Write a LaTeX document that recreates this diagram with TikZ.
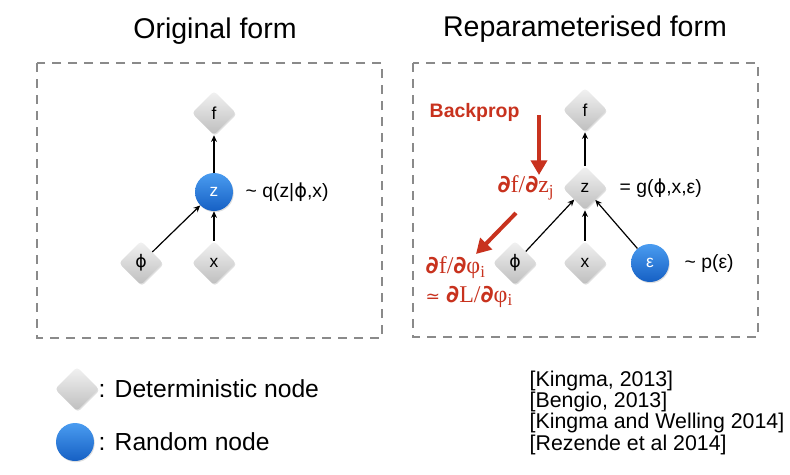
\documentclass[tikz,border=0pt]{standalone}
\usepackage{fontspec}
\setmainfont{Liberation Sans}
\newfontfamily\redserif{Liberation Serif}
\newfontfamily\dvsans{DejaVu Sans}
\usetikzlibrary{shapes.geometric,arrows.meta,shadows}
\definecolor{boxgray}{HTML}{8A8A8A}
\definecolor{redtxt}{HTML}{C8321E}
\definecolor{bluetop}{HTML}{4A9CF0}
\definecolor{bluebot}{HTML}{1660C4}
\definecolor{dtop}{HTML}{F2F2F2}
\definecolor{dbot}{HTML}{BEBEBE}
\tikzset{
  detnode/.style={diamond, aspect=1, minimum size=33pt, inner sep=0pt,
    rounded corners=2.5pt, top color=dtop, bottom color=dbot,
    drop shadow={opacity=0.25, shadow xshift=0.6pt, shadow yshift=-0.9pt},
    font=\fontsize{13}{15}\selectfont},
  rndnode/.style={circle, minimum size=28.5pt, inner sep=0pt,
    top color=bluetop, bottom color=bluebot, text=white,
    drop shadow={opacity=0.25, shadow xshift=0.6pt, shadow yshift=-0.9pt},
    font=\fontsize{13}{15}\selectfont},
  edge/.style={-{Stealth[length=5pt,width=4.5pt]}, line width=0.9pt, black},
  redarrow/.style={line width=3pt, redtxt, -{Triangle[length=11pt,width=12pt]}},
  framebox/.style={draw=boxgray, line width=1.1pt, dash pattern=on 7pt off 5pt},
  title/.style={font=\fontsize{21.4}{24}\selectfont},
  lbl/.style={anchor=west, font=\fontsize{14.5}{17}\selectfont},
  redlbl/.style={text=redtxt, font=\redserif\fontsize{18}{21}\selectfont},
  legtxt/.style={anchor=west, font=\fontsize{18.5}{22}\selectfont},
  reftxt/.style={anchor=west, font=\fontsize{16}{19}\selectfont},
}
\newcommand{\bpartial}{{\dvsans\bfseries ∂}}
\newcommand{\sphi}{{\dvsans ϕ}}
\begin{document}
\begin{tikzpicture}[x=0.75pt,y=-0.75pt]
\useasboundingbox (0,0) rectangle (790,475);
% titles
\node[title] (t1) at (215,31) {Original form};
\node[title] (t2) at (585,29) {Reparameterised form};
% frames
\draw[framebox] (37,63) rectangle (382,338);
\draw[framebox] (413,63) rectangle (758,337);
% left graph
\node[detnode] (lf) at (214,113) {f};
\node[rndnode] (lz) at (214,192) {z};
\node[detnode] (lphi) at (141,263) {\sphi};
\node[detnode] (lx) at (214,263) {x};
\draw[edge] (lz) -- (lf);
\draw[edge] (lphi) -- (lz);
\draw[edge] (lx) -- (lz);
\node[lbl] (lq) at (241,192) {\textasciitilde\ q(z|\sphi,x)};
% right graph
\node[detnode] (rf) at (585,110) {f};
\node[detnode] (rz) at (585,188) {z};
\node[detnode] (rphi) at (515,263) {\sphi};
\node[detnode] (rx) at (585,263) {x};
\node[rndnode] (reps) at (650,263) {ε};
\draw[edge] (rz) -- (rf);
\draw[edge] (rphi) -- (rz);
\draw[edge] (rx) -- (rz);
\draw[edge] (reps) -- (rz);
\node[lbl] (rg) at (615,188) {= g(\sphi,x,ε)};
\node[lbl] (rp) at (680,263) {\textasciitilde\ p(ε)};
% backprop annotations
\node[anchor=west, text=redtxt, font=\bfseries\fontsize{14.6}{17}\selectfont] (bp) at (425,112) {Backprop};
\coordinate (ba1) at (539,115);
\coordinate (ba2) at (539,175);
\draw[redarrow] (ba1) -- (ba2);
\node[redlbl, anchor=east] (dfdz) at (559,188) {\bpartial f/\bpartial z\textsubscript{j}};
\coordinate (bb1) at (516,213);
\coordinate (bb2) at (476,254);
\draw[redarrow] (bb1) -- (bb2);
\node[redlbl, anchor=west] (dfdphi) at (421,268) {\bpartial f/\bpartial φ\textsubscript{i}};
\node[redlbl, anchor=west] (approx) at (421,297) {{\dvsans\fontsize{13}{15}\selectfont ≃} \bpartial L/\bpartial φ\textsubscript{i}};
% legend
\node[detnode] (legd) at (77,389) {};
\node[rndnode] (legr) at (75,442) {};
\node[legtxt] (legdt) at (94,389) {: Deterministic node};
\node[legtxt] (legrt) at (94,442) {: Random node};
% references
\node[reftxt] (r1) at (525,381) {[Kingma, 2013]};
\node[reftxt] (r2) at (525,402) {[Bengio, 2013]};
\node[reftxt] (r3) at (525,423) {[Kingma and Welling 2014]};
\node[reftxt] (r4) at (525,445) {[Rezende et al 2014]};
\end{tikzpicture}
\end{document}
